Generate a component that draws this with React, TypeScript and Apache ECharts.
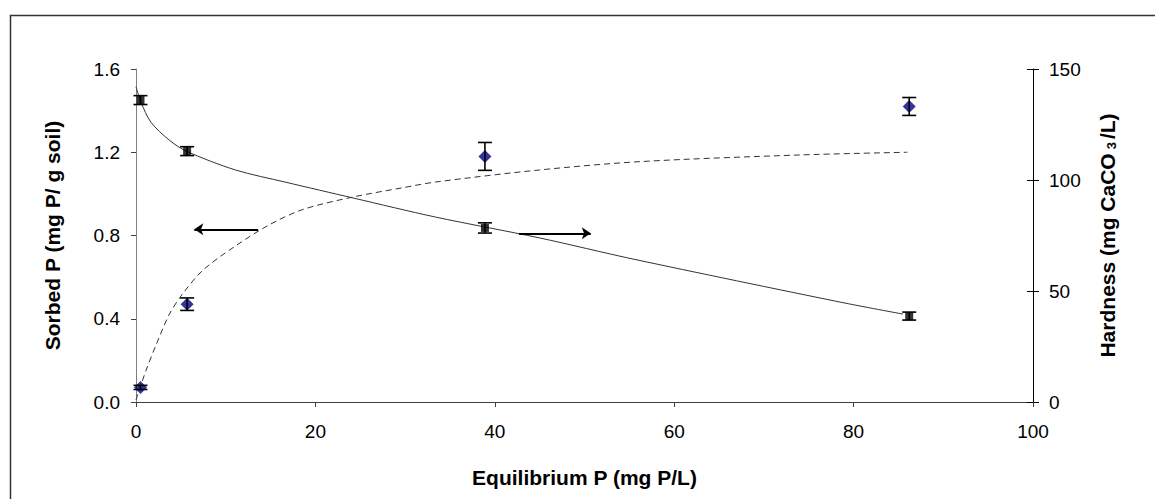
import React, { useEffect, useRef } from "react";
import * as echarts from "echarts";

// Measured points
const eqP = [0.5, 5.7, 38.9, 86.2];
const sorbedP = [0.07, 0.47, 1.18, 1.42];
const sorbedErr = [0.01, 0.03, 0.067, 0.043];
const hardness = [136, 113, 78.4, 38.7];
const hardnessErr = [2, 2, 2.3, 1.8];

// Fitted curves
const sorbFitX = [0, 1.1, 2.2, 3.7, 5.2, 7.5, 11.1, 14.8, 18.6, 24.2, 29.8, 33.4, 45, 56.2, 74, 86];
const sorbFitY = [0.01, 0.15, 0.27, 0.42, 0.52, 0.635, 0.75, 0.85, 0.925, 0.985, 1.03, 1.057, 1.115, 1.155, 1.187, 1.2];
const hardFitX = [0, 0.56, 1.67, 3.7, 5.6, 11.1, 16.7, 24.2, 33.4, 45, 55.4, 78.5, 85.5];
const hardFitY = [142, 135, 126, 118, 113, 104.5, 99, 91.9, 83.3, 73.9, 64.4, 45, 39.6];

// Arrows (axis-pointing annotations)
const leftArrow = [[13.6, 0.83], [6.5, 0.83]];
const rightArrow = [[42.7, 76], [50.7, 76]];

// Ticks
const xTicks = { min: 0, max: 100, interval: 20 };
const leftTicks = { min: 0, max: 1.6, interval: 0.4 };
const rightTicks = { min: 0, max: 150, interval: 50 };

const FONT = "'Liberation Sans', Arial, Helvetica, sans-serif";

function errorBarSeries(yAxisIndex: number, ys: number[], errs: number[]) {
  return {
    type: "custom",
    xAxisIndex: 0,
    yAxisIndex,
    z: 5,
    data: eqP.map((x, i) => [x, ys[i] - errs[i], ys[i] + errs[i]]),
    renderItem: (params: any, api: any) => {
      const x = api.value(0);
      const lo = api.coord([x, api.value(1)]);
      const hi = api.coord([x, api.value(2)]);
      const w = 7;
      const style = { stroke: "#000", lineWidth: 1.6 };
      return {
        type: "group",
        children: [
          { type: "line", shape: { x1: lo[0], y1: lo[1], x2: hi[0], y2: hi[1] }, style },
          { type: "line", shape: { x1: lo[0] - w, y1: lo[1], x2: lo[0] + w, y2: lo[1] }, style },
          { type: "line", shape: { x1: hi[0] - w, y1: hi[1], x2: hi[0] + w, y2: hi[1] }, style },
        ],
      };
    },
  };
}

export default function App() {
  const ref = useRef<HTMLDivElement>(null);
  useEffect(() => {
    const chart = echarts.init(ref.current!, null, { renderer: "svg" });
    const labelStyle = { fontSize: 19, color: "#000", fontFamily: FONT };
    const nameStyle = { fontSize: 21, fontWeight: "bold", color: "#000", fontFamily: FONT };
    chart.setOption({
      animation: false,
      backgroundColor: "#fff",
      grid: { left: 136, right: 122, top: 69, bottom: 97 },
      graphic: [
        {
          type: "rect",
          left: 8,
          top: 13,
          shape: { width: 1300, height: 600 },
          style: { fill: "none", stroke: "#333", lineWidth: 1.5 },
          silent: true,
        },
      ],
      xAxis: {
        type: "value",
        ...xTicks,
        splitLine: { show: false },
        axisLine: { lineStyle: { color: "#404040", width: 1 } },
        axisTick: { length: 5, lineStyle: { color: "#404040" } },
        axisLabel: { ...labelStyle, margin: 20 },
        name: "Equilibrium P (mg P/L)",
        nameLocation: "middle",
        nameGap: 65,
        nameTextStyle: nameStyle,
      },
      yAxis: [
        {
          type: "value",
          position: "left",
          ...leftTicks,
          splitLine: { show: false },
          axisLine: { show: true, lineStyle: { color: "#808080", width: 1 } },
          axisTick: { show: true, length: 5, lineStyle: { color: "#404040" } },
          axisLabel: { ...labelStyle, margin: 16, formatter: (v: number) => v.toFixed(1) },
          name: "Sorbed P (mg P/ g soil)",
          nameLocation: "middle",
          nameGap: 73,
          nameTextStyle: nameStyle,
        },
        {
          type: "value",
          position: "right",
          ...rightTicks,
          splitLine: { show: false },
          axisLine: { show: true, lineStyle: { color: "#000", width: 1 } },
          axisTick: { show: true, length: 6, lineStyle: { color: "#000" } },
          axisLabel: { ...labelStyle, margin: 16 },
          name: "Hardness (mg CaCO{sub|3}/L)",
          nameLocation: "middle",
          nameGap: 63,
          nameTextStyle: {
            ...nameStyle,
            rich: { sub: { fontSize: 13, fontWeight: "bold", fontFamily: FONT, verticalAlign: "bottom", padding: [9, 3, 0, 4] } },
          },
        },
        {
          type: "value",
          position: "right",
          ...rightTicks,
          splitLine: { show: false },
          axisLine: { show: false },
          axisTick: { show: true, inside: true, length: 6, lineStyle: { color: "#000" } },
          axisLabel: { show: false },
        },
      ],
      series: [
        {
          type: "line",
          name: "Sorption fit",
          yAxisIndex: 0,
          data: sorbFitX.map((x, i) => [x, sorbFitY[i]]),
          smooth: 0.3,
          symbol: "none",
          lineStyle: { color: "#333", width: 1, type: [6, 4] },
          z: 2,
        },
        {
          type: "line",
          name: "Hardness fit",
          yAxisIndex: 1,
          data: hardFitX.map((x, i) => [x, hardFitY[i]]),
          smooth: 0.3,
          symbol: "none",
          lineStyle: { color: "#333", width: 1 },
          z: 2,
        },
        errorBarSeries(0, sorbedP, sorbedErr),
        errorBarSeries(1, hardness, hardnessErr),
        {
          type: "scatter",
          name: "Sorbed P",
          yAxisIndex: 0,
          data: eqP.map((x, i) => [x, sorbedP[i]]),
          symbol: "diamond",
          symbolSize: 13,
          itemStyle: { color: "#000080" },
          z: 4,
        },
        {
          type: "scatter",
          name: "Hardness",
          yAxisIndex: 1,
          data: eqP.map((x, i) => [x, hardness[i]]),
          symbol: "rect",
          symbolSize: 8,
          itemStyle: { color: "#000" },
          z: 4,
        },
        {
          type: "lines",
          coordinateSystem: "cartesian2d",
          xAxisIndex: 0,
          yAxisIndex: 0,
          symbol: ["none", "arrow"],
          symbolSize: 9,
          lineStyle: { color: "#000", width: 2, opacity: 1 },
          data: [{ coords: leftArrow }],
          z: 3,
        },
        {
          type: "lines",
          coordinateSystem: "cartesian2d",
          xAxisIndex: 0,
          yAxisIndex: 1,
          symbol: ["none", "arrow"],
          symbolSize: 9,
          lineStyle: { color: "#000", width: 2, opacity: 1 },
          data: [{ coords: rightArrow }],
          z: 3,
        },
      ],
    });
    return () => chart.dispose();
  }, []);
  return (
    <div
      ref={ref}
      style={{ position: "fixed", left: 0, top: 0, width: 1155, height: 499, background: "#fff" }}
    />
  );
}
